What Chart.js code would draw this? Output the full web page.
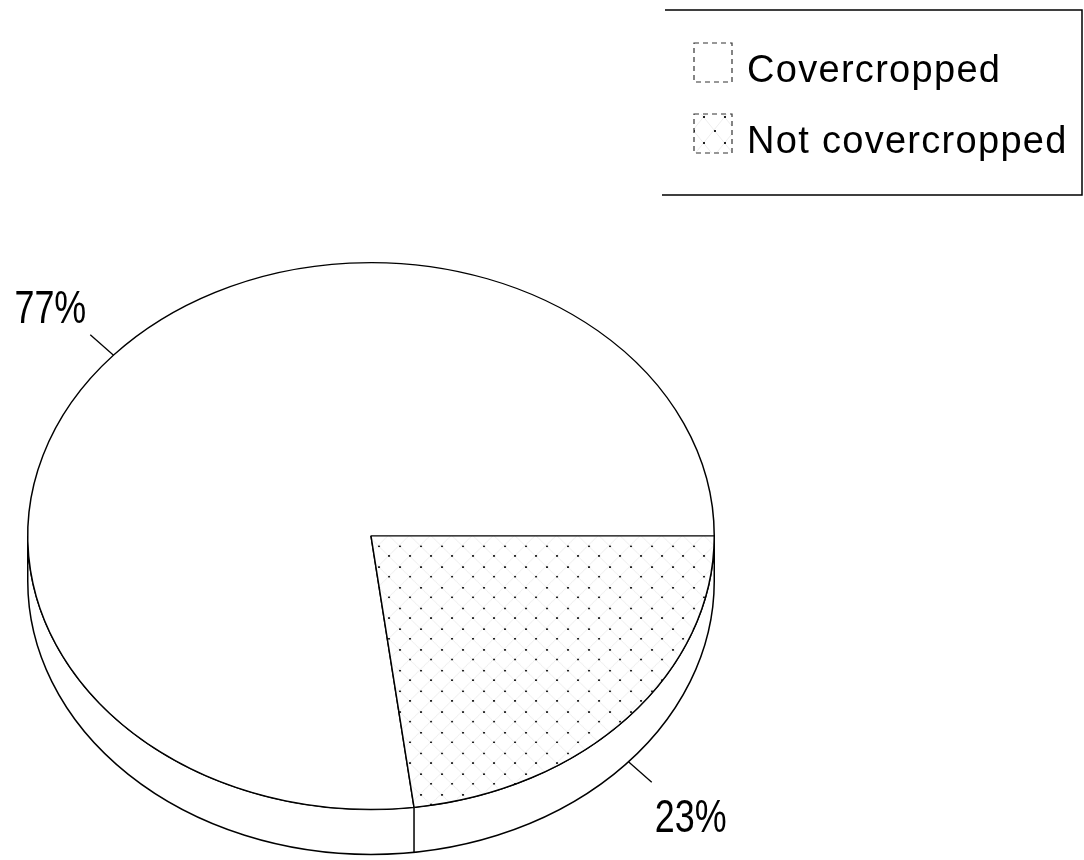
<!DOCTYPE html>
<html>
<head>
<meta charset="utf-8">
<script src="https://cdn.jsdelivr.net/npm/chart.js@4/dist/chart.umd.min.js"></script>
<style>
html, body { margin: 0; padding: 0; background: #fff; }
canvas { display: block; }
</style>
</head>
<body>
<canvas id="pieChart" width="1084" height="860"></canvas>
<script>
var categories = ["Covercropped", "Not covercropped"];
var shares = [77, 23];
var shareLabels = ["77%", "23%"];

var tilt = 274 / 344;      // vertical squash of the pie face
var depth = 45;            // thickness of the pie edge
var faceCenterY = 536;
var FONT = '"Liberation Sans", Arial, Helvetica, sans-serif';

var ctx = document.getElementById("pieChart").getContext("2d");

function makeDots() {
    var c = document.createElement("canvas");
    c.width = 21;
    c.height = 26;
    var g = c.getContext("2d");
    g.fillStyle = "#fff";
    g.fillRect(0, 0, 21, 26);
    g.strokeStyle = "rgba(0,0,0,0.09)";
    g.lineWidth = 0.8;
    g.beginPath();
    g.moveTo(0, 0); g.lineTo(21, 26);
    g.moveTo(21, 0); g.lineTo(0, 26);
    g.stroke();
    g.fillStyle = "#222";
    g.fillRect(0, 0, 2, 2);
    g.fillRect(10, 12, 2, 2);
    return ctx.createPattern(c, "repeat");
}
var dots = makeDots();

var tiltedPie = {
    id: "tiltedPie",
    beforeDatasetsDraw: function (chart) {
        var c = chart.ctx;
        var arcs = chart.getDatasetMeta(0).data;
        var cx = arcs[0].x, r = arcs[0].outerRadius, ry = r * tilt;
        // the edge of the disc
        c.save();
        c.beginPath();
        c.moveTo(cx + r, faceCenterY);
        c.lineTo(cx + r, faceCenterY + depth);
        c.ellipse(cx, faceCenterY + depth, r, ry, 0, 0, Math.PI);
        c.lineTo(cx - r, faceCenterY);
        c.ellipse(cx, faceCenterY, r, ry, 0, Math.PI, 0, true);
        c.closePath();
        c.fillStyle = "#fff";
        c.fill();
        c.lineWidth = 1.5;
        c.strokeStyle = "#000";
        c.stroke();
        arcs.forEach(function (arc) {
            var s = Math.sin(arc.startAngle);
            if (s > 0.01) {
                var x = cx + r * Math.cos(arc.startAngle);
                var y = faceCenterY + ry * s;
                c.beginPath();
                c.moveTo(x, y);
                c.lineTo(x, y + depth);
                c.stroke();
            }
        });
        c.restore();
        // squash the face
        c.save();
        c.translate(cx, faceCenterY);
        c.scale(1, tilt);
        c.translate(-cx, -arcs[0].y);
    },
    afterDatasetsDraw: function (chart) {
        var c = chart.ctx;
        c.restore();
        var arcs = chart.getDatasetMeta(0).data;
        c.save();
        c.strokeStyle = "#000";
        c.lineWidth = 1.3;
        c.fillStyle = "#000";
        c.font = "46px " + FONT;
        arcs.forEach(function (arc, i) {
            var mid = (arc.startAngle + arc.endAngle) / 2;
            var co = Math.cos(mid), si = Math.sin(mid);
            var r = arc.outerRadius;
            var x0 = arc.x + r * co;
            var y0 = faceCenterY + r * tilt * si + (si > 0 ? depth : 0);
            var x1 = x0 + 31 * co, y1 = y0 + 31 * si;
            c.beginPath();
            c.moveTo(x0, y0);
            c.lineTo(x1, y1);
            c.stroke();
            c.save();
            if (co < 0) {
                c.translate(x1 - 4, y1 - 12);
                c.textAlign = "right";
            } else {
                c.translate(x1 + 3, y1 + 50);
                c.textAlign = "left";
            }
            c.scale(0.78, 1);
            c.textBaseline = "alphabetic";
            c.fillText(shareLabels[i], 0, 0);
            c.restore();
        });
        c.restore();
    },
    afterDraw: function (chart) {
        var c = chart.ctx;
        var fills = chart.data.datasets[0].backgroundColor;
        c.save();
        c.strokeStyle = "#000";
        c.lineWidth = 1.5;
        c.beginPath();
        c.moveTo(665, 10); c.lineTo(1082, 10);
        c.lineTo(1082, 195);
        c.lineTo(662, 195);
        c.stroke();
        c.font = "38px " + FONT;
        c.letterSpacing = "1.3px";
        c.textBaseline = "alphabetic";
        var rows = [82, 153];
        chart.data.labels.forEach(function (lab, i) {
            var b = rows[i];
            c.fillStyle = fills[i];
            c.fillRect(694, b - 39, 38, 39);
            c.save();
            c.setLineDash([5, 4]);
            c.lineWidth = 1.2;
            c.strokeStyle = "#333";
            c.strokeRect(694, b - 39, 38, 39);
            c.restore();
            c.fillStyle = "#000";
            c.fillText(lab, 747, b);
        });
        c.restore();
    }
};

var pieChart = new Chart(ctx, {
    type: "pie",
    data: {
        labels: categories,
        datasets: [
            {
                data: shares,
                backgroundColor: ["#ffffff", dots],
                borderColor: "#000",
                borderWidth: 1.5,
                clip: false,
            },
        ],
    },
    options: {
        responsive: false,
        animation: false,
        events: [],
        rotation: 172.8,
        layout: {
            padding: { left: 27, right: 369, top: 86, bottom: 86 },
        },
        plugins: {
            legend: { display: false },
            tooltip: { enabled: false },
        },
    },
    plugins: [tiltedPie],
});
</script>
</body>
</html>
